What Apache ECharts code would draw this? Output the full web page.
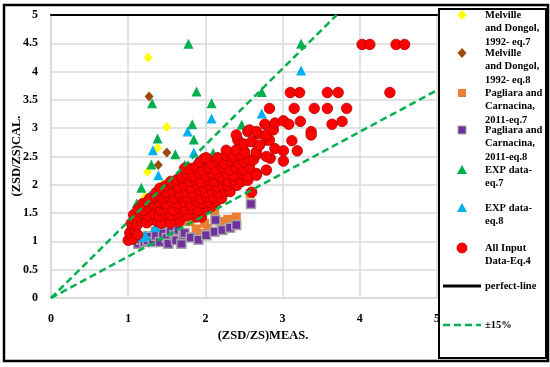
<!DOCTYPE html>
<html><head><meta charset="utf-8">
<script src="https://cdn.jsdelivr.net/npm/echarts/dist/echarts.min.js"></script>
<style>html,body{margin:0;padding:0;background:#fff}#c{width:550px;height:367px}</style>
</head><body><div id="c"></div>
<script>
// ---- data ----
const melvilleEq7 = [[1.26,4.25],[1.50,3.02],[1.38,2.65],[1.25,2.23],[1.45,2.02],[1.22,1.79]];
const melvilleEq8 = [[1.27,3.56],[1.50,2.57],[1.39,2.35]];
const pagliaraEq7 = [[2.12,1.52],[2.19,1.35],[2.29,1.39],[2.40,1.43],[2.03,1.23],[1.91,1.14],[1.80,1.35],[1.88,1.22],
  [2.58,1.84],[1.25,1.10],[1.40,1.08],[1.55,1.12],[1.70,1.15],[1.60,1.25],[1.35,1.18],[1.48,1.22],[1.78,1.35],[1.99,1.32]];
const pagliaraEq8 = [[1.13,0.96],[1.17,1.03],[1.21,0.99],[1.25,1.02],[1.28,1.08],[1.32,0.99],[1.36,1.10],[1.41,0.99],[1.45,1.14],
  [1.50,1.06],[1.52,0.96],[1.55,1.18],[1.60,1.11],[1.62,1.02],[1.65,1.20],[1.69,0.96],[1.71,1.11],[1.73,1.15],[1.81,1.07],
  [1.91,1.03],[2.01,1.11],[2.12,1.17],[2.13,1.38],[2.22,1.20],[2.32,1.24],[2.40,1.29],[2.59,1.66]];
const expEq7 = [[1.78,4.49],[1.885,3.65],[1.31,3.44],[1.83,3.07],[1.38,2.82],[1.85,2.80],[1.61,2.54],[1.30,2.36],[2.08,3.44],
  [2.47,3.06],[2.73,3.64],[3.24,4.49],[1.73,2.35],[2.10,2.56],[1.90,2.14],[1.17,1.95],[1.11,1.67]];
const expEq8 = [[1.77,2.94],[1.32,2.61],[1.85,2.57],[1.39,2.17],[2.08,3.17],[2.73,3.26],[3.24,4.02],[2.44,2.76],[1.28,1.81],
  [1.88,2.41],[1.22,1.11],[1.41,1.32],[1.35,1.25],[1.30,1.46],[1.19,1.08],[1.50,1.40]];
const allInputEq4 = [
  [1.00,1.02],[1.03,1.08],[1.06,1.04],[1.02,1.15],[1.05,1.22],[1.09,1.18],[1.12,1.12],
  [1.04,1.32],[1.08,1.38],[1.12,1.30],[1.17,1.36],[1.24,1.33],[1.30,1.38],[1.38,1.35],[1.45,1.38],[1.52,1.36],[1.60,1.40],[1.66,1.35],[1.43,1.32],[1.55,1.33],
  [1.07,1.47],[1.12,1.44],[1.18,1.50],[1.26,1.46],[1.33,1.49],[1.40,1.45],[1.48,1.50],[1.56,1.46],[1.64,1.49],[1.72,1.45],[1.80,1.50],[1.88,1.43],[1.95,1.43],[1.77,1.46],
  [1.13,1.57],[1.20,1.55],[1.27,1.60],[1.35,1.61],[1.42,1.56],[1.50,1.59],[1.58,1.55],[1.66,1.60],[1.74,1.56],[1.83,1.58],[1.91,1.55],[2.00,1.60],[2.08,1.62],
  [1.19,1.67],[1.25,1.70],[1.33,1.66],[1.41,1.69],[1.49,1.66],[1.57,1.70],[1.65,1.67],[1.73,1.69],[1.81,1.65],[1.89,1.70],[1.97,1.67],[2.05,1.69],[2.14,1.71],
  [1.28,1.76],[1.35,1.79],[1.44,1.77],[1.52,1.80],[1.60,1.76],[1.68,1.79],[1.77,1.77],[1.86,1.80],[1.94,1.76],[2.02,1.79],[2.11,1.77],[2.21,1.76],
  [1.36,1.86],[1.42,1.90],[1.50,1.86],[1.58,1.89],[1.67,1.85],[1.75,1.88],[1.83,1.86],[1.92,1.90],[2.00,1.86],[2.09,1.89],[2.17,1.85],[2.26,1.88],[2.32,1.88],[2.60,1.87],
  [1.41,1.94],[1.48,1.98],[1.56,2.02],[1.64,1.96],[1.73,1.99],[1.81,1.95],[1.90,1.99],[1.98,1.96],[2.06,2.00],[2.15,1.96],[2.23,1.99],[2.29,1.99],[2.41,1.99],
  [1.55,2.06],[1.63,2.09],[1.69,2.11],[1.79,2.06],[1.87,2.10],[1.95,2.05],[2.04,2.09],[2.12,2.06],[2.21,2.10],[2.30,2.06],[2.38,2.09],[2.47,2.06],[2.55,2.08],
  [1.69,2.14],[1.76,2.19],[1.84,2.16],[1.92,2.20],[2.01,2.15],[2.10,2.19],[2.19,2.15],[2.28,2.19],[2.37,2.16],[2.48,2.19],[2.55,2.16],[2.66,2.20],
  [1.73,2.29],[1.80,2.29],[1.88,2.32],[1.96,2.26],[2.05,2.30],[2.13,2.27],[2.22,2.31],[2.31,2.26],[2.40,2.30],[2.49,2.27],[2.57,2.31],[2.66,2.17],[2.79,2.26],
  [1.93,2.40],[1.98,2.46],[2.07,2.38],[2.16,2.42],[2.24,2.38],[2.33,2.43],[2.42,2.38],[2.50,2.41],[2.57,2.44],[2.62,2.44],[2.84,2.47],[3.01,2.42],
  [2.01,2.48],[2.16,2.48],[2.27,2.52],[2.36,2.49],[2.45,2.53],[2.66,2.53],[2.79,2.50],
  [2.27,2.61],[2.40,2.62],[2.51,2.58],[2.66,2.58],[3.01,2.60],[3.19,2.60],[2.90,2.64],
  [2.42,2.79],[2.50,2.72],[2.60,2.76],[2.79,2.79],[2.83,2.79],[3.12,2.78],[2.70,2.70],
  [2.40,2.88],[2.55,2.94],[2.68,2.90],[2.79,2.88],[2.88,2.97],[3.37,2.94],[3.37,2.88],[2.57,2.97],[2.66,2.94],
  [2.77,3.07],[2.90,3.09],[3.01,3.13],[3.08,3.07],[3.23,3.12],[3.64,3.07],[3.77,3.12],
  [2.83,3.35],[3.15,3.35],[3.41,3.35],[3.58,3.35],[3.83,3.35],
  [3.10,3.63],[3.22,3.63],[3.58,3.63],[3.72,3.63],[4.39,3.63],
  [4.03,4.48],[4.13,4.48],[4.47,4.48],[4.58,4.48]
];
const upperLine = [[0,0],[3.70,5]];
const lowerLine = [[0,0],[5,3.67]];
const legendLabels = ['Melville\nand Dongol,\n1992- eq.7','Melville\nand Dongol,\n1992- eq.8','Pagliara and\nCarnacina,\n2011-eq.7',
  'Pagliara and\nCarnacina,\n2011-eq.8','EXP data-\neq.7','EXP data-\neq.8','All Input\nData-Eq.4','perfect-line','\u00b115%'];
const xTitle = '(ZSD/ZS)MEAS.';
const yTitle = '(ZSD/ZS)CAL.';

// ---- chart ----
const FONT = "'Liberation Serif','DejaVu Serif',serif";
const chart = echarts.init(document.getElementById('c'), null, {renderer:'canvas'});
function sc(name, data, symbol, size, color, border, bw){
  return {type:'scatter', name, data, symbol, symbolSize:size,
    itemStyle:{color, borderColor:border, borderWidth:bw, opacity:1}, emphasis:{disabled:true}};
}
const legendY = [15,53,93,130,170,208,248,286,325];
const LX = 462;
const graphics = [
  {type:'rect', shape:{x:4,y:5,width:544,height:356}, style:{fill:'none',stroke:'#000',lineWidth:2.5}, z:100},
  {type:'text', x:263, y:336, style:{text:xTitle, font:"bold 12.5px "+FONT, fill:'#000', align:'center', verticalAlign:'middle'}, z:100},
  {type:'text', x:17, y:156, rotation:Math.PI/2, style:{text:yTitle, font:"bold 12.5px "+FONT, fill:'#000', align:'center', verticalAlign:'middle'}, z:100},
  {type:'rect', shape:{x:439,y:9,width:107,height:349}, style:{fill:'#fff',stroke:'#000',lineWidth:2}, z:101}
];
const icons = [
  {type:'polygon', shape:{points:[[LX,legendY[0]-5],[LX+4.5,legendY[0]],[LX,legendY[0]+5],[LX-4.5,legendY[0]]]}, style:{fill:'#ffff00'}},
  {type:'polygon', shape:{points:[[LX,legendY[1]-5],[LX+4.5,legendY[1]],[LX,legendY[1]+5],[LX-4.5,legendY[1]]]}, style:{fill:'#9e480e'}},
  {type:'rect', shape:{x:LX-4,y:legendY[2]-4,width:8,height:8}, style:{fill:'#ed7d31'}},
  {type:'rect', shape:{x:LX-4,y:legendY[3]-4,width:8,height:8}, style:{fill:'#7030a0',stroke:'#a6a6a6',lineWidth:1}},
  {type:'polygon', shape:{points:[[LX,legendY[4]-5],[LX+5,legendY[4]+4],[LX-5,legendY[4]+4]]}, style:{fill:'#00b050'}},
  {type:'polygon', shape:{points:[[LX,legendY[5]-5],[LX+5,legendY[5]+4],[LX-5,legendY[5]+4]]}, style:{fill:'#00b0f0'}},
  {type:'circle', shape:{cx:LX,cy:legendY[6],r:5}, style:{fill:'#ff0000',stroke:'#c00000',lineWidth:0.8}},
  {type:'line', shape:{x1:443,y1:legendY[7],x2:481,y2:legendY[7]}, style:{stroke:'#000',lineWidth:3}},
  {type:'line', shape:{x1:443,y1:legendY[8],x2:481,y2:legendY[8]}, style:{stroke:'#00b050',lineWidth:2.5,lineDash:[7,4]}}
];
icons.forEach(g=>{g.z=102; graphics.push(g);});
legendLabels.forEach((t,i)=>{
  graphics.push({type:'text', x:485, y:legendY[i]-6.75, z:102,
    style:{text:t, font:"bold 10.5px "+FONT, fill:'#000', lineHeight:13.5, align:'left', verticalAlign:'top'}});
});

const option = {
  backgroundColor:'#fff',
  animation:false,
  grid:{left:51, top:15, right:113, bottom:69, containLabel:false, outerBoundsMode:'none'},
  xAxis:[{type:'value', min:0, max:5, interval:1,
    axisLine:{show:true, lineStyle:{color:'#d9d9d9', width:1.5}}, axisTick:{show:false},
    splitLine:{show:true, lineStyle:{color:'#d9d9d9', width:1.5}},
    axisLabel:{color:'#000', fontFamily:FONT, fontWeight:'bold', fontSize:12, margin:15}},
   {type:'value', position:'top', min:0, max:5, axisLine:{show:true, lineStyle:{color:'#000', width:2}},
    axisTick:{show:false}, axisLabel:{show:false}, splitLine:{show:false}}],
  yAxis:{type:'value', min:0, max:5, interval:0.5,
    axisLine:{show:true, lineStyle:{color:'#d9d9d9', width:1.5}}, axisTick:{show:false},
    splitLine:{show:true, lineStyle:{color:'#d9d9d9', width:1.5}},
    axisLabel:{color:'#000', fontFamily:FONT, fontWeight:'bold', fontSize:12, margin:13}},
  series:[
    sc(legendLabels[0], melvilleEq7, 'diamond', [9,10], '#ffff00', '#ffff00', 0),
    sc(legendLabels[1], melvilleEq8, 'diamond', [9,10], '#9e480e', '#9e480e', 0),
    sc(legendLabels[2], pagliaraEq7, 'rect', 9, '#ed7d31', '#ed7d31', 0),
    sc(legendLabels[3], pagliaraEq8, 'rect', 9, '#7030a0', '#a6a6a6', 1.5),
    sc(legendLabels[4], expEq7, 'triangle', 10, '#00b050', '#00b050', 0),
    sc(legendLabels[5], expEq8, 'triangle', 10, '#00b0f0', '#00b0f0', 0),
    sc(legendLabels[6], allInputEq4, 'circle', 10.5, '#ff0000', '#b00000', 0.8),
    {type:'line', name:'upper', data:upperLine, showSymbol:false, symbol:'none', z:5,
      lineStyle:{color:'#00b050', width:2.5, type:[7,4]}, emphasis:{disabled:true}},
    {type:'line', name:'lower', data:lowerLine, showSymbol:false, symbol:'none', z:5,
      lineStyle:{color:'#00b050', width:2.5, type:[7,4]}, emphasis:{disabled:true}}
  ],
  graphic:graphics
};
chart.setOption(option);
</script></body></html>
